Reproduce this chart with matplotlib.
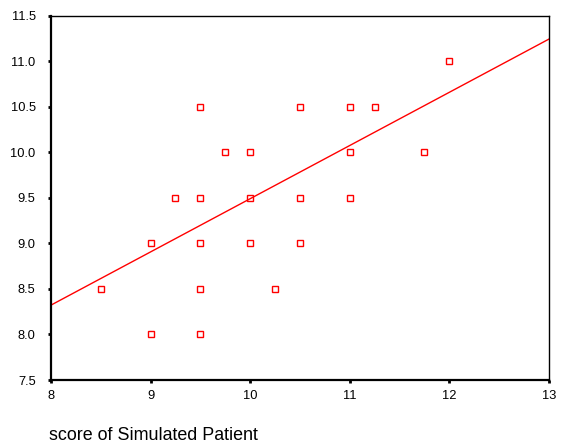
import numpy as np
import matplotlib.pyplot as plt

plt.rcParams['font.family'] = ['Liberation Sans', 'DejaVu Sans']

# score of Simulated Patient (x) vs. score (y)
sp_score = [8.5, 9, 9, 9.25, 9.5, 9.5, 9.5, 9.5, 9.5, 9.75, 10, 10, 10, 10.25,
            10.5, 10.5, 10.5, 11, 11, 11, 11.25, 11.75, 12]
other_score = [8.5, 9, 8, 9.5, 10.5, 9.5, 9, 8.5, 8, 10, 10, 9.5, 9, 8.5,
               10.5, 9.5, 9, 10.5, 10, 9.5, 10.5, 10, 11]

# fitted line
fit_intercept = 3.65
fit_slope = 0.584

xticks = [8, 9, 10, 11, 12, 13]
yticks = [7.5, 8.0, 8.5, 9.0, 9.5, 10.0, 10.5, 11.0, 11.5]

fig = plt.figure(figsize=(5.64, 4.44), dpi=100)
ax = fig.add_axes([0.0904, 0.1441, 0.883, 0.8209])

ax.plot(sp_score, other_score, 's', mfc='none', mec='red', ms=5, mew=1.0,
        linestyle='none')
xl = np.array([8, 13])
ax.plot(xl, fit_intercept + fit_slope * xl, color='red', lw=1.0)

ax.set_xlim(8, 13)
ax.set_ylim(7.5, 11.5)
ax.set_xticks(xticks)
ax.set_xticklabels([str(t) for t in xticks])
ax.set_yticks(yticks)
ax.set_yticklabels(['%.1f' % t for t in yticks])
ax.tick_params(direction='out', length=2, width=2, labelsize=9.3)
ax.tick_params(axis='y', pad=9)
ax.tick_params(axis='x', pad=5)

ax.spines['left'].set_linewidth(1.6)
ax.spines['bottom'].set_linewidth(1.6)
ax.spines['top'].set_linewidth(1.0)
ax.spines['right'].set_linewidth(1.0)

fig.text(49 / 564, 1 - 435 / 444, 'score of Simulated Patient', fontsize=12.9,
         ha='left', va='center')

fig.savefig('out.png', dpi=100)
